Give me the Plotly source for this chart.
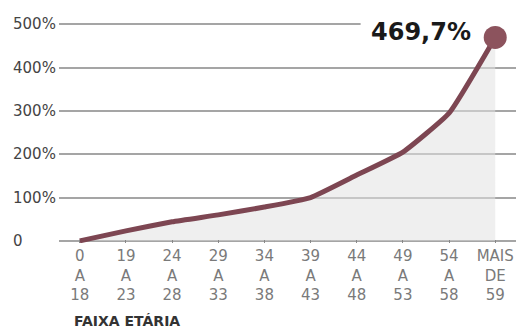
import plotly.graph_objects as go

categories = ["0<br>A<br>18", "19<br>A<br>23", "24<br>A<br>28", "29<br>A<br>33", "34<br>A<br>38",
              "39<br>A<br>43", "44<br>A<br>48", "49<br>A<br>53", "54<br>A<br>58", "MAIS<br>DE<br>59"]
values = [0, 23, 44, 60, 78, 100, 152, 205, 295, 469.7]
y_ticks = [0, 100, 200, 300, 400, 500]
y_labels = ["0", "100%", "200%", "300%", "400%", "500%"]
x_title = "FAIXA ETÁRIA"
peak_label = "469,7%"

x_idx = list(range(len(categories)))
FONT = "DejaVu Sans, sans-serif"

fig = go.Figure()
fig.add_trace(go.Scatter(
    x=x_idx, y=values, mode="lines",
    line=dict(color="#7d4652", width=5, shape="spline", smoothing=0.4),
    fill="tozeroy", fillcolor="rgba(225,225,225,0.55)",
    hoverinfo="skip", cliponaxis=False,
))
fig.add_trace(go.Scatter(
    x=[x_idx[-1]], y=[values[-1]], mode="markers",
    marker=dict(color="#8c535d", size=23),
    hoverinfo="skip", cliponaxis=False,
))

fig.add_annotation(
    x=x_idx[-1], y=values[-1], xref="x", yref="y",
    text="<b>" + peak_label + "</b>", showarrow=False,
    xanchor="right", yanchor="middle", xshift=-22, yshift=5,
    font=dict(family="DejaVu Sans, sans-serif", size=24, color="#1a1a1a"),
)
# white strip hiding the top gridline behind the label
fig.add_shape(type="rect", xref="paper", yref="y", x0=0.66, x1=1.0, y0=498, y1=504,
              fillcolor="white", line=dict(width=0), layer="above")

# left-aligned y tick labels
for v, lab in zip(y_ticks, y_labels):
    fig.add_annotation(
        x=0, y=v, xref="paper", yref="y", text=lab, showarrow=False,
        xanchor="left", yanchor="middle", xshift=-48,
        font=dict(family=FONT, size=15, color="#444444"),
    )

fig.add_annotation(
    x=0.028, y=-0.35, xref="paper", yref="paper", text="<b>" + x_title + "</b>",
    showarrow=False, xanchor="left", yanchor="middle",
    font=dict(family=FONT, size=14, color="#333333"),
)

fig.update_layout(
    width=518, height=329, margin=dict(l=59, r=2, t=20, b=86),
    paper_bgcolor="white", plot_bgcolor="white", showlegend=False,
    xaxis=dict(
        range=[-0.45, 9.45], tickmode="array", tickvals=x_idx, ticktext=categories,
        showgrid=False, zeroline=False, showline=False,
        ticks="inside", ticklen=3, tickcolor="#888888", tickwidth=1,
        ticklabelstandoff=2,
        tickfont=dict(family=FONT, size=15, color="#7a7a7a"),
    ),
    yaxis=dict(
        range=[-5, 510], tickmode="array", tickvals=y_ticks, showticklabels=False,
        showgrid=True, gridcolor="#a5a5a5", gridwidth=1.5, zeroline=False, showline=False,
        ticks="",
    ),
)
fig.write_html("out.html")
